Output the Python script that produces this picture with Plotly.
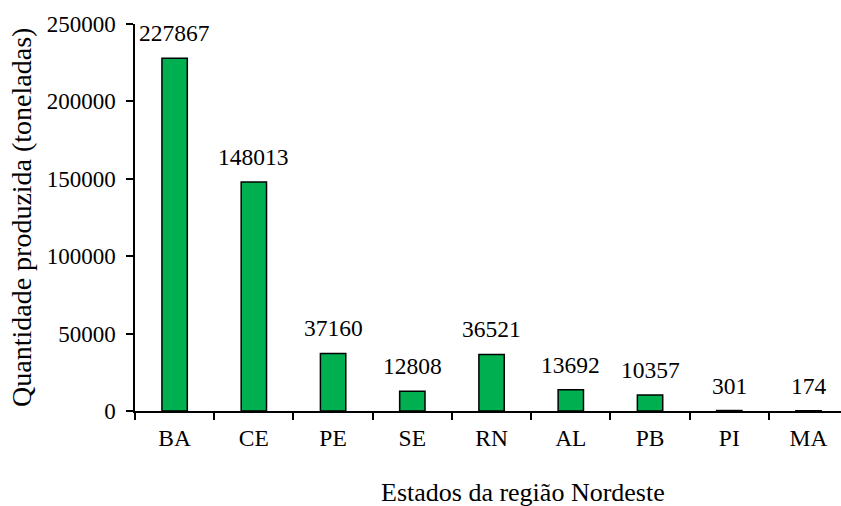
import plotly.graph_objects as go

states = ["BA", "CE", "PE", "SE", "RN", "AL", "PB", "PI", "MA"]
production = [227867, 148013, 37160, 12808, 36521, 13692, 10357, 301, 174]
y_ticks = [0, 50000, 100000, 150000, 200000, 250000]

FONT = "Liberation Serif, Times New Roman, serif"

fig = go.Figure()
fig.add_trace(go.Bar(
    x=states, y=production,
    marker=dict(color="#00B050", line=dict(color="black", width=1.5)),
    width=0.32,
    cliponaxis=False,
))

for s, v in zip(states, production):
    fig.add_annotation(x=s, y=v, text=str(v), showarrow=False,
                       yanchor="bottom", yshift=10,
                       font=dict(family=FONT, size=23.5, color="black"))

fig.add_annotation(xref="paper", yref="paper", x=(523 - 135) / 706, y=(411 - 492) / 387,
                   text="Estados da região Nordeste", showarrow=False,
                   xanchor="center", yanchor="middle",
                   font=dict(family=FONT, size=26, color="black"))
fig.add_annotation(xref="paper", yref="paper", x=(22 - 135) / 706, y=(411 - 218) / 387,
                   text="Quantidade produzida (toneladas)", showarrow=False,
                   textangle=-90, xanchor="center", yanchor="middle",
                   font=dict(family=FONT, size=28, color="black"))

fig.update_layout(
    width=841, height=506,
    margin=dict(l=135, r=0, t=24, b=95),
    plot_bgcolor="white", paper_bgcolor="white",
    font=dict(family=FONT, size=23, color="black"),
    showlegend=False,
)
fig.update_xaxes(
    range=[-0.5, 8.41], showline=True, linecolor="black", linewidth=1.5,
    ticks="outside", ticklen=7, tickwidth=1.5, tickcolor="black",
    tickson="boundaries", showgrid=False, zeroline=False,
    tickfont=dict(family=FONT, size=23.5), ticklabelstandoff=5,
)
fig.update_yaxes(
    range=[0, 250000], tickvals=y_ticks, ticktext=[str(t) for t in y_ticks],
    showline=True, linecolor="black", linewidth=1.5,
    ticks="outside", ticklen=7, tickwidth=1.5, tickcolor="black",
    showgrid=False, zeroline=False,
    tickfont=dict(family=FONT, size=23), ticklabelstandoff=6,
)

fig.write_html("out.html", config={"displayModeBar": False},
               post_script="document.body.style.margin='0';")
